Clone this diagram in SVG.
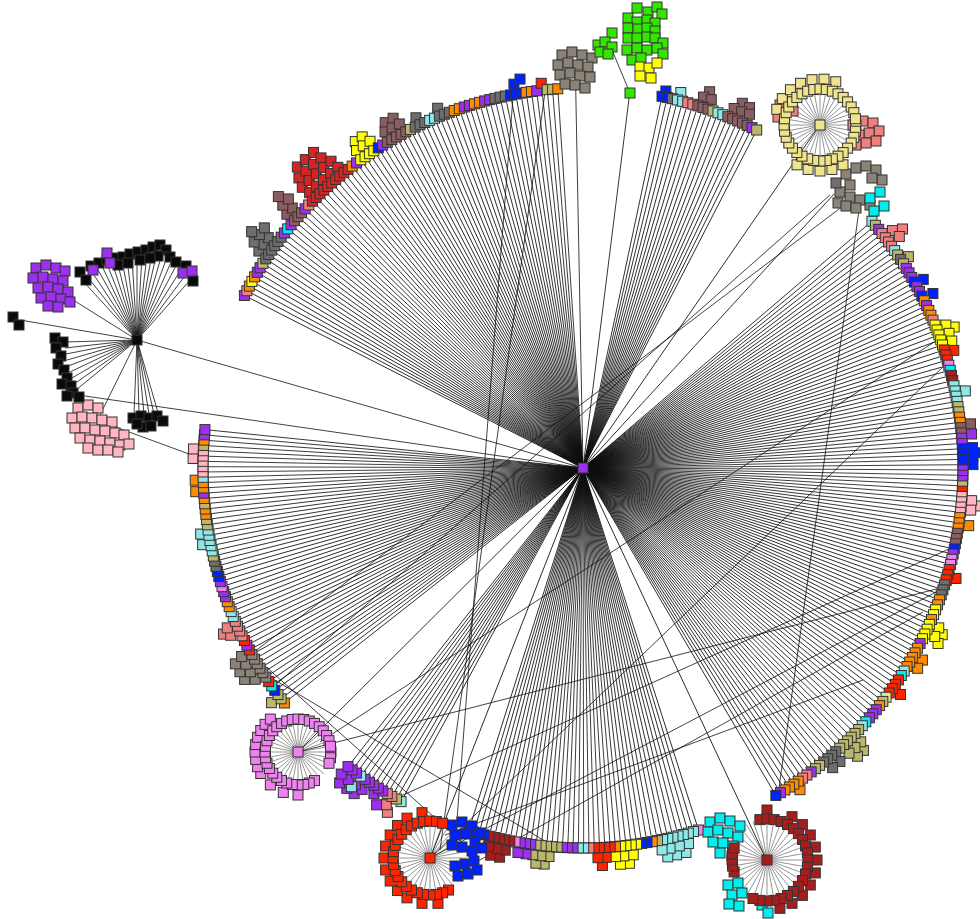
<svg xmlns="http://www.w3.org/2000/svg" width="980" height="919" viewBox="0 0 980 919">
<style>
.e{stroke:#111;stroke-width:.8;fill:none}
.sp{stroke-width:.45}
.n{stroke:#333;stroke-width:1}
.rg use{transform-origin:0 0;transform:rotate(calc(var(--a)*1deg)) translate(calc(var(--r,380)*1px)) rotate(calc(var(--a)*-1deg))}
.pu{fill:#9b30ee}.or{fill:#ff8c00}.ye{fill:#ffff00}.gy{fill:#6e6e6e}.tp{fill:#8b8378}.rb{fill:#8b5c60}
.rd{fill:#ff2400}.fr{fill:#d42424}.dr{fill:#a51e1e}.lc{fill:#f08080}.kh{fill:#bdb76b}.lk{fill:#efe38c}
.cy{fill:#00eeee}.pc{fill:#8ee8e8}.bl{fill:#0022ff}.vi{fill:#ee82ee}.pk{fill:#ffb6c1}.gn{fill:#33e600}.bk{fill:#0a0a0a}
</style>
<defs>
<rect id="s" x="-5" y="-5" width="10" height="10"/>
<line id="r" x2="380"/>
<g id="f5"><use href="#r"/><use href="#r" transform="rotate(.8)"/><use href="#r" transform="rotate(1.6)"/><use href="#r" transform="rotate(2.4)"/><use href="#r" transform="rotate(3.2)"/></g>
<g id="f10"><use href="#f5"/><use href="#f5" transform="rotate(4)"/></g>
<path id="w" vector-effect="non-scaling-stroke" d="M0 0L1 0M0 0L.985 .174M0 0L.94 .342M0 0L.866 .5M0 0L.766 .643M0 0L.643 .766M0 0L.5 .866M0 0L.342 .94M0 0L.174 .985M0 0L0 1M0 0L-.174 .985M0 0L-.342 .94M0 0L-.5 .866M0 0L-.643 .766M0 0L-.766 .643M0 0L-.866 .5M0 0L-.94 .342M0 0L-.985 .174M0 0L-1 0M0 0L-.985 -.174M0 0L-.94 -.342M0 0L-.866 -.5M0 0L-.766 -.643M0 0L-.643 -.766M0 0L-.5 -.866M0 0L-.342 -.94M0 0L-.174 -.985M0 0L0 -1M0 0L.174 -.985M0 0L.342 -.94M0 0L.5 -.866M0 0L.643 -.766M0 0L.766 -.643M0 0L.866 -.5M0 0L.94 -.342M0 0L.985 -.174"/>
</defs>
<rect width="980" height="919" fill="#fff"/>

<!-- connectors -->
<g id="edges" class="e">
<g id="fan" transform="translate(583 468)">
<use href="#f10" transform="rotate(207)"/><use href="#f10" transform="rotate(215)"/><use href="#f10" transform="rotate(223)"/><use href="#f10" transform="rotate(231)"/><use href="#f10" transform="rotate(239)"/><use href="#f10" transform="rotate(247)"/><use href="#f10" transform="rotate(255)"/><use href="#f5" transform="rotate(263)"/>
<use href="#r" transform="rotate(268.9)"/><use href="#r" transform="rotate(277.1)"/>
<use href="#f10" transform="rotate(282)"/><use href="#f10" transform="rotate(290)"/>
<line x2="417" transform="rotate(304.6)"/><line x2="372" transform="rotate(312.5)"/>
<use href="#f10" transform="rotate(319.5)"/><use href="#f10" transform="rotate(327.5)"/><use href="#f10" transform="rotate(335.5)"/><use href="#f10" transform="rotate(343.5)"/><use href="#f10" transform="rotate(351.5)"/><use href="#f10" transform="rotate(359.5)"/><use href="#f10" transform="rotate(7.5)"/><use href="#f10" transform="rotate(15.5)"/><use href="#f10" transform="rotate(23.5)"/><use href="#f10" transform="rotate(31.5)"/><use href="#f10" transform="rotate(39.5)"/><use href="#f10" transform="rotate(47.5)"/><use href="#f5" transform="rotate(55.5)"/><use href="#r" transform="rotate(59.5)"/>
<line x2="433" transform="rotate(64.9)"/>
<use href="#f10" transform="rotate(72.3)"/><use href="#f10" transform="rotate(80.3)"/><use href="#f10" transform="rotate(88.3)"/><use href="#f10" transform="rotate(96.3)"/><use href="#f5" transform="rotate(104.3)"/>
<line x2="419" transform="rotate(111.4)"/>
<use href="#f10" transform="rotate(118.6)"/><use href="#r" transform="rotate(126.6)"/><use href="#r" transform="rotate(127.4)"/><use href="#r" transform="rotate(128.2)"/>
<line x2="402" transform="rotate(135.1)"/>
<use href="#f10" transform="rotate(141.8)"/><use href="#f10" transform="rotate(149.8)"/><use href="#f10" transform="rotate(157.8)"/><use href="#f10" transform="rotate(165.8)"/><use href="#f10" transform="rotate(173.8)"/><use href="#f5" transform="rotate(181.8)"/><use href="#r" transform="rotate(185.8)"/>
</g>
<g id="hub-spokes" class="sp">
<use href="#w" transform="translate(820 125) scale(36)"/>
<use href="#w" transform="translate(298 752) scale(34)"/>
<use href="#w" transform="translate(430 858) scale(37)"/>
<use href="#w" transform="translate(767 860) scale(41)"/>
</g>
<path id="black-spokes" d="M137 340L82 280M137 340L87 276M137 340L92 272M137 340L97 268M137 340L102 266M137 340L107 264M137 340L112 262M137 340L117 261M137 340L122 260M137 340L127 259M137 340L132 258M137 340L137 257M137 340L142 256M137 340L147 255M137 340L152 253M137 340L157 252M137 340L162 254M137 340L167 257M137 340L172 260M137 340L177 264M137 340L182 268M137 340L187 273M137 340L192 278M137 340L64 342M137 340L65 348M137 340L66 354M137 340L67 360M137 340L68 366M137 340L70 372M137 340L72 378M137 340L74 384M137 340L76 390M137 340L134 414M137 340L139 414M137 340L144 414M137 340L149 414M137 340L154 414M137 340L159 416M137 340L20 320M137 340L70 298M137 340L100 415"/>
<path id="cross-links" d="M137 340L583 468M78 395L583 468M110 425L200 458M612 50L630 93M513 97L455 845M545 92L440 850M859 210L778 795M847 203L250 655M830 195L272 688M945 365L430 858M298 752L952 585M940 590L430 858M923 612L462 870M863 680L445 835M245 648L462 842M268 676L560 850M320 742L945 335M392 800L958 545"/>
</g>

<!-- nodes -->
<g id="nodes" class="n">
<g id="ring" class="rg" transform="translate(583 468)">
<use href="#s" class="gy" style="--a:213.8;--r:390"/><use href="#s" class="gy" style="--a:215;--r:390"/><use href="#s" class="gy" style="--a:216.2;--r:390"/><use href="#s" class="gy" style="--a:214.5;--r:399"/><use href="#s" class="gy" style="--a:215.8;--r:399"/><use href="#s" class="gy" style="--a:217;--r:399"/><use href="#s" class="gy" style="--a:215.5;--r:407"/>
<use href="#s" class="rb" style="--a:220.6;--r:390"/><use href="#s" class="rb" style="--a:221.8;--r:390"/><use href="#s" class="rb" style="--a:221.2;--r:399"/><use href="#s" class="rb" style="--a:222.4;--r:399"/><use href="#s" class="rb" style="--a:221.7;--r:408"/>
<use href="#s" class="fr" style="--a:226.5;--r:415"/><use href="#s" class="fr" style="--a:228;--r:415"/><use href="#s" class="fr" style="--a:229.5;--r:415"/><use href="#s" class="fr" style="--a:225.6;--r:406"/><use href="#s" class="fr" style="--a:227;--r:406"/><use href="#s" class="fr" style="--a:228.4;--r:406"/><use href="#s" class="fr" style="--a:229.8;--r:406"/><use href="#s" class="fr" style="--a:225;--r:397"/><use href="#s" class="fr" style="--a:226.4;--r:397"/><use href="#s" class="fr" style="--a:227.8;--r:397"/><use href="#s" class="fr" style="--a:229.2;--r:397"/><use href="#s" class="fr" style="--a:230.6;--r:397"/><use href="#s" class="fr" style="--a:225.2;--r:388"/><use href="#s" class="fr" style="--a:226.6;--r:388"/><use href="#s" class="fr" style="--a:228;--r:388"/><use href="#s" class="fr" style="--a:229.4;--r:388"/><use href="#s" class="fr" style="--a:230.8;--r:388"/>
<use href="#s" class="ye" style="--a:235.1;--r:398"/><use href="#s" class="ye" style="--a:236.3;--r:398"/><use href="#s" class="ye" style="--a:234.5;--r:390"/><use href="#s" class="ye" style="--a:235.7;--r:390"/><use href="#s" class="ye" style="--a:236.9;--r:390"/>
<use href="#s" class="rb" style="--a:240.2;--r:398"/><use href="#s" class="rb" style="--a:241.5;--r:398"/><use href="#s" class="rb" style="--a:239.5;--r:390"/><use href="#s" class="rb" style="--a:240.7;--r:390"/><use href="#s" class="rb" style="--a:241.9;--r:390"/>
<use href="#s" class="gy" style="--a:244.5;--r:388"/><use href="#s" class="gy" style="--a:248;--r:388"/><use href="#s" class="bl" style="--a:259.8;--r:390"/><use href="#s" class="bl" style="--a:260.8;--r:394"/>
<use href="#s" class="bl" style="--a:282.4;--r:386"/><use href="#s" class="pc" style="--a:284.6;--r:388"/><use href="#s" class="rb" style="--a:288.6;--r:397"/><use href="#s" class="rb" style="--a:288;--r:390"/><use href="#s" class="rb" style="--a:289.2;--r:390"/><use href="#s" class="rb" style="--a:293.6;--r:398"/><use href="#s" class="rb" style="--a:294.8;--r:397"/><use href="#s" class="rb" style="--a:292.8;--r:390"/><use href="#s" class="rb" style="--a:294;--r:390"/><use href="#s" class="rb" style="--a:295.2;--r:391"/>
<use href="#s" class="lc" style="--a:323.2;--r:399"/><use href="#s" class="lc" style="--a:322.5;--r:390"/><use href="#s" class="lc" style="--a:323.8;--r:392"/><use href="#s" class="kh" style="--a:327;--r:388"/><use href="#s" class="bl" style="--a:331;--r:389"/><use href="#s" class="bl" style="--a:333.5;--r:391"/>
<use href="#s" class="ye" style="--a:339.2;--r:397"/><use href="#s" class="ye" style="--a:338.5;--r:390"/><use href="#s" class="ye" style="--a:339.8;--r:390"/><use href="#s" class="ye" style="--a:341;--r:390"/><use href="#s" class="rd" style="--a:342.4;--r:389"/><use href="#s" class="pc" style="--a:348.6;--r:390"/><use href="#s" class="rb" style="--a:353.5;--r:390"/><use href="#s" class="pu" style="--a:355;--r:390"/>
<use href="#s" class="bl" style="--a:357.8;--r:396"/><use href="#s" class="bl" style="--a:357;--r:390"/><use href="#s" class="bl" style="--a:358.3;--r:390"/><use href="#s" class="bl" style="--a:359.5;--r:390"/>
<use href="#s" class="pk" style="--a:5.5;--r:396"/><use href="#s" class="pk" style="--a:4.8;--r:390"/><use href="#s" class="pk" style="--a:6.2;--r:390"/><use href="#s" class="or" style="--a:8.5;--r:390"/><use href="#s" class="rd" style="--a:16.5;--r:389"/>
<use href="#s" class="ye" style="--a:24.9;--r:396"/><use href="#s" class="ye" style="--a:26.3;--r:396"/><use href="#s" class="ye" style="--a:24.2;--r:390"/><use href="#s" class="ye" style="--a:25.6;--r:390"/><use href="#s" class="or" style="--a:29.5;--r:390"/><use href="#s" class="or" style="--a:30.9;--r:390"/><use href="#s" class="rd" style="--a:35.5;--r:390"/>
<use href="#s" class="kh" style="--a:45.2;--r:398"/><use href="#s" class="kh" style="--a:46.4;--r:398"/><use href="#s" class="kh" style="--a:44.6;--r:390"/><use href="#s" class="kh" style="--a:45.8;--r:390"/><use href="#s" class="kh" style="--a:47;--r:390"/><use href="#s" class="gy" style="--a:48.8;--r:390"/><use href="#s" class="gy" style="--a:50.2;--r:390"/><use href="#s" class="or" style="--a:56;--r:388"/>
<use href="#s" class="pc" style="--a:75;--r:398"/><use href="#s" class="pc" style="--a:76.4;--r:398"/><use href="#s" class="pc" style="--a:77.7;--r:398"/><use href="#s" class="pc" style="--a:74.3;--r:390"/><use href="#s" class="pc" style="--a:75.7;--r:390"/><use href="#s" class="pc" style="--a:77.1;--r:390"/><use href="#s" class="pc" style="--a:78.3;--r:390"/>
<use href="#s" class="ye" style="--a:83.3;--r:398"/><use href="#s" class="ye" style="--a:84.6;--r:398"/><use href="#s" class="ye" style="--a:82.6;--r:390"/><use href="#s" class="ye" style="--a:84;--r:390"/><use href="#s" class="ye" style="--a:85.2;--r:390"/>
<use href="#s" class="rd" style="--a:87.2;--r:398"/><use href="#s" class="rd" style="--a:86.6;--r:390"/><use href="#s" class="rd" style="--a:87.8;--r:390"/>
<use href="#s" class="kh" style="--a:95.6;--r:398"/><use href="#s" class="kh" style="--a:96.8;--r:398"/><use href="#s" class="kh" style="--a:95;--r:390"/><use href="#s" class="kh" style="--a:96.2;--r:390"/><use href="#s" class="kh" style="--a:97.4;--r:390"/><use href="#s" class="pu" style="--a:98.4;--r:390"/><use href="#s" class="pu" style="--a:99.6;--r:390"/>
<use href="#s" class="dr" style="--a:102.1;--r:398"/><use href="#s" class="dr" style="--a:103.4;--r:398"/><use href="#s" class="dr" style="--a:101.5;--r:390"/><use href="#s" class="dr" style="--a:102.7;--r:390"/><use href="#s" class="dr" style="--a:104;--r:390"/>
<use href="#s" class="lc" style="--a:119.6;--r:396"/><use href="#s" class="lc" style="--a:120.3;--r:390"/><use href="#s" class="pu" style="--a:121.5;--r:395"/><use href="#s" class="pu" style="--a:122.7;--r:387"/>
<use href="#s" class="pu" style="--a:125.1;--r:398"/><use href="#s" class="pu" style="--a:126.4;--r:398"/><use href="#s" class="pu" style="--a:127.7;--r:398"/><use href="#s" class="pu" style="--a:124.5;--r:390"/><use href="#s" class="pu" style="--a:125.7;--r:390"/><use href="#s" class="pc" style="--a:126;--r:394"/><use href="#s" class="pu" style="--a:127;--r:390"/><use href="#s" class="pu" style="--a:128.3;--r:390"/>
<use href="#s" class="kh" style="--a:143;--r:390"/>
<use href="#s" class="tp" style="--a:148;--r:399"/><use href="#s" class="tp" style="--a:149.3;--r:399"/><use href="#s" class="tp" style="--a:150.6;--r:399"/><use href="#s" class="tp" style="--a:147.2;--r:390"/><use href="#s" class="tp" style="--a:148.5;--r:390"/><use href="#s" class="tp" style="--a:149.8;--r:390"/><use href="#s" class="tp" style="--a:151.1;--r:390"/>
<use href="#s" class="lc" style="--a:155.2;--r:396"/><use href="#s" class="lc" style="--a:154.6;--r:390"/><use href="#s" class="lc" style="--a:155.8;--r:390"/><use href="#s" class="pc" style="--a:168.6;--r:388"/><use href="#s" class="pc" style="--a:170.2;--r:388"/><use href="#s" class="or" style="--a:176.5;--r:388"/><use href="#s" class="or" style="--a:178.2;--r:388"/><use href="#s" class="pk" style="--a:181.4;--r:390"/><use href="#s" class="pk" style="--a:182.8;--r:390"/>

<use href="#s" class="pu" style="--a:207"/><use href="#s" class="lc" style="--a:207.8"/><use href="#s" class="or" style="--a:208.6"/><use href="#s" class="ye" style="--a:209.4"/><use href="#s" class="or" style="--a:210.2"/><use href="#s" class="pu" style="--a:211"/><use href="#s" class="pu" style="--a:211.8"/><use href="#s" class="kh" style="--a:212.6"/><use href="#s" class="gy" style="--a:213.4"/><use href="#s" class="gy" style="--a:214.2"/><use href="#s" class="gy" style="--a:215"/><use href="#s" class="gy" style="--a:215.8"/><use href="#s" class="gy" style="--a:216.6"/><use href="#s" class="gy" style="--a:217.4"/><use href="#s" class="pu" style="--a:218.2"/><use href="#s" class="cy" style="--a:219"/><use href="#s" class="pu" style="--a:219.8"/><use href="#s" class="rb" style="--a:220.6"/><use href="#s" class="rb" style="--a:221.4"/><use href="#s" class="rb" style="--a:222.2"/><use href="#s" class="pu" style="--a:223"/><use href="#s" class="lc" style="--a:223.8"/>
<use href="#s" class="fr" style="--a:224.6"/><use href="#s" class="fr" style="--a:225.4"/><use href="#s" class="fr" style="--a:226.2"/><use href="#s" class="fr" style="--a:227"/><use href="#s" class="fr" style="--a:227.8"/><use href="#s" class="fr" style="--a:228.6"/><use href="#s" class="fr" style="--a:229.4"/><use href="#s" class="fr" style="--a:230.2"/><use href="#s" class="fr" style="--a:231"/><use href="#s" class="fr" style="--a:231.8"/><use href="#s" class="or" style="--a:232.6"/><use href="#s" class="pu" style="--a:233.4"/><use href="#s" class="ye" style="--a:234.2"/><use href="#s" class="ye" style="--a:235"/><use href="#s" class="ye" style="--a:235.8"/><use href="#s" class="ye" style="--a:236.6"/><use href="#s" class="bl" style="--a:237.4"/><use href="#s" class="pu" style="--a:238.2"/>
<use href="#s" class="rb" style="--a:239"/><use href="#s" class="rb" style="--a:239.8"/><use href="#s" class="rb" style="--a:240.6"/><use href="#s" class="rb" style="--a:241.4"/><use href="#s" class="rb" style="--a:242.2"/><use href="#s" class="kh" style="--a:243"/><use href="#s" class="gy" style="--a:243.8"/><use href="#s" class="gy" style="--a:244.6"/><use href="#s" class="gy" style="--a:245.4"/><use href="#s" class="pc" style="--a:246.2"/><use href="#s" class="pc" style="--a:247"/><use href="#s" class="gy" style="--a:247.8"/><use href="#s" class="gy" style="--a:248.6"/><use href="#s" class="gy" style="--a:249.4"/><use href="#s" class="or" style="--a:250.2"/><use href="#s" class="or" style="--a:251"/><use href="#s" class="pu" style="--a:251.8"/><use href="#s" class="pu" style="--a:252.6"/><use href="#s" class="or" style="--a:253.4"/><use href="#s" class="or" style="--a:254.2"/><use href="#s" class="pu" style="--a:255"/><use href="#s" class="pu" style="--a:255.8"/>
<use href="#s" class="gy" style="--a:256.6"/><use href="#s" class="gy" style="--a:257.4"/><use href="#s" class="gy" style="--a:258.2"/><use href="#s" class="bl" style="--a:259"/><use href="#s" class="bl" style="--a:259.8"/><use href="#s" class="bl" style="--a:260.6"/><use href="#s" class="or" style="--a:261.4"/><use href="#s" class="or" style="--a:262.2"/><use href="#s" class="pu" style="--a:263"/><use href="#s" class="rd" style="--a:263.8;--r:387"/><use href="#s" class="kh" style="--a:264.6"/><use href="#s" class="kh" style="--a:265.4"/><use href="#s" class="or" style="--a:266.2"/>
<use href="#s" class="bl" style="--a:282"/><use href="#s" class="bl" style="--a:282.8"/><use href="#s" class="gy" style="--a:283.6"/><use href="#s" class="pc" style="--a:284.4"/><use href="#s" class="pc" style="--a:285.2"/><use href="#s" class="lc" style="--a:286"/><use href="#s" class="lc" style="--a:286.8"/><use href="#s" class="rb" style="--a:287.6"/><use href="#s" class="rb" style="--a:288.4"/><use href="#s" class="rb" style="--a:289.2"/><use href="#s" class="kh" style="--a:290"/><use href="#s" class="pc" style="--a:290.8"/><use href="#s" class="pc" style="--a:291.6"/><use href="#s" class="rb" style="--a:292.4"/><use href="#s" class="rb" style="--a:293.2"/><use href="#s" class="rb" style="--a:294"/><use href="#s" class="rb" style="--a:294.8"/><use href="#s" class="rb" style="--a:295.6"/><use href="#s" class="pu" style="--a:296.4"/><use href="#s" class="kh" style="--a:297.2"/>
<use href="#s" class="pc" style="--a:319.5"/><use href="#s" class="kh" style="--a:320.3"/><use href="#s" class="pu" style="--a:321.1"/><use href="#s" class="lc" style="--a:321.9"/><use href="#s" class="lc" style="--a:322.7"/><use href="#s" class="lc" style="--a:323.5"/><use href="#s" class="lc" style="--a:324.3"/><use href="#s" class="pc" style="--a:325.1"/><use href="#s" class="kh" style="--a:325.9"/><use href="#s" class="gy" style="--a:326.7"/><use href="#s" class="kh" style="--a:327.5"/><use href="#s" class="pu" style="--a:328.3"/><use href="#s" class="pu" style="--a:329.1"/><use href="#s" class="pu" style="--a:329.9"/><use href="#s" class="bl" style="--a:330.7"/><use href="#s" class="pu" style="--a:331.5"/><use href="#s" class="pu" style="--a:332.3"/><use href="#s" class="bl" style="--a:333.1"/><use href="#s" class="or" style="--a:333.9"/><use href="#s" class="pu" style="--a:334.7"/><use href="#s" class="or" style="--a:335.5"/><use href="#s" class="or" style="--a:336.3"/><use href="#s" class="lc" style="--a:337.1"/>
<use href="#s" class="ye" style="--a:337.9"/><use href="#s" class="ye" style="--a:338.7"/><use href="#s" class="ye" style="--a:339.5"/><use href="#s" class="ye" style="--a:340.3"/><use href="#s" class="ye" style="--a:341.1"/><use href="#s" class="rd" style="--a:341.9"/><use href="#s" class="rd" style="--a:342.7"/><use href="#s" class="rd" style="--a:343.5"/><use href="#s" class="vi" style="--a:344.3"/><use href="#s" class="cy" style="--a:345.1"/><use href="#s" class="dr" style="--a:345.9"/><use href="#s" class="dr" style="--a:346.7"/><use href="#s" class="pc" style="--a:347.5"/><use href="#s" class="pc" style="--a:348.3"/><use href="#s" class="pc" style="--a:349.1"/><use href="#s" class="pc" style="--a:349.9"/><use href="#s" class="kh" style="--a:350.7"/><use href="#s" class="kh" style="--a:351.5"/><use href="#s" class="or" style="--a:352.3"/><use href="#s" class="or" style="--a:353.1"/><use href="#s" class="rb" style="--a:353.9"/><use href="#s" class="rb" style="--a:354.7"/><use href="#s" class="pu" style="--a:355.5"/><use href="#s" class="pu" style="--a:356.3"/><use href="#s" class="bl" style="--a:357.1"/><use href="#s" class="bl" style="--a:357.9"/><use href="#s" class="bl" style="--a:358.7"/><use href="#s" class="bl" style="--a:359.5"/>
<use href="#s" class="pu" style="--a:0.3"/><use href="#s" class="pu" style="--a:1.1"/><use href="#s" class="pu" style="--a:1.9"/><use href="#s" class="kh" style="--a:2.7"/><use href="#s" class="rd" style="--a:3.5"/><use href="#s" class="pk" style="--a:4.3"/><use href="#s" class="pk" style="--a:5.1"/><use href="#s" class="pk" style="--a:5.9"/><use href="#s" class="pk" style="--a:6.7"/><use href="#s" class="or" style="--a:7.5"/><use href="#s" class="or" style="--a:8.3"/><use href="#s" class="or" style="--a:9.1"/><use href="#s" class="rb" style="--a:9.9"/><use href="#s" class="rb" style="--a:10.7"/><use href="#s" class="rb" style="--a:11.5"/><use href="#s" class="bl" style="--a:12.3"/><use href="#s" class="pu" style="--a:13.1"/><use href="#s" class="vi" style="--a:13.9"/><use href="#s" class="vi" style="--a:14.7"/><use href="#s" class="rd" style="--a:15.5"/><use href="#s" class="rd" style="--a:16.3"/><use href="#s" class="rd" style="--a:17.1"/><use href="#s" class="gy" style="--a:17.9"/><use href="#s" class="gy" style="--a:18.7"/><use href="#s" class="gy" style="--a:19.5"/>
<use href="#s" class="or" style="--a:20.3"/><use href="#s" class="or" style="--a:21.1"/><use href="#s" class="ye" style="--a:21.9"/><use href="#s" class="ye" style="--a:22.7"/><use href="#s" class="or" style="--a:23.5"/><use href="#s" class="ye" style="--a:24.3"/><use href="#s" class="ye" style="--a:25.1"/><use href="#s" class="ye" style="--a:25.9"/><use href="#s" class="ye" style="--a:26.7"/><use href="#s" class="pu" style="--a:27.5"/><use href="#s" class="or" style="--a:28.3"/><use href="#s" class="or" style="--a:29.1"/><use href="#s" class="or" style="--a:29.9"/><use href="#s" class="or" style="--a:30.7"/><use href="#s" class="or" style="--a:31.5"/><use href="#s" class="pc" style="--a:32.3"/><use href="#s" class="cy" style="--a:33.1"/><use href="#s" class="rd" style="--a:33.9"/><use href="#s" class="rd" style="--a:34.7"/><use href="#s" class="rd" style="--a:35.5"/><use href="#s" class="rd" style="--a:36.3"/><use href="#s" class="lk" style="--a:37.1"/><use href="#s" class="kh" style="--a:37.9"/><use href="#s" class="or" style="--a:38.7"/>
<use href="#s" class="pu" style="--a:39.5"/><use href="#s" class="pu" style="--a:40.3"/><use href="#s" class="pu" style="--a:41.1"/><use href="#s" class="cy" style="--a:41.9"/><use href="#s" class="pc" style="--a:42.7"/><use href="#s" class="kh" style="--a:43.5"/><use href="#s" class="kh" style="--a:44.3"/><use href="#s" class="kh" style="--a:45.1"/><use href="#s" class="kh" style="--a:45.9"/><use href="#s" class="kh" style="--a:46.7"/><use href="#s" class="kh" style="--a:47.5"/><use href="#s" class="gy" style="--a:48.3"/><use href="#s" class="gy" style="--a:49.1"/><use href="#s" class="gy" style="--a:49.9"/><use href="#s" class="gy" style="--a:50.7"/><use href="#s" class="kh" style="--a:51.5"/><use href="#s" class="kh" style="--a:52.3"/><use href="#s" class="pu" style="--a:53.1"/><use href="#s" class="lc" style="--a:53.9"/><use href="#s" class="lc" style="--a:54.7"/><use href="#s" class="or" style="--a:55.5"/><use href="#s" class="or" style="--a:56.3"/><use href="#s" class="or" style="--a:57.1"/><use href="#s" class="or" style="--a:57.9"/><use href="#s" class="pu" style="--a:58.7"/><use href="#s" class="bl" style="--a:59.5"/>
<use href="#s" class="vi" style="--a:72.3"/><use href="#s" class="pc" style="--a:73.1"/><use href="#s" class="pc" style="--a:73.9"/><use href="#s" class="pc" style="--a:74.7"/><use href="#s" class="pc" style="--a:75.5"/><use href="#s" class="pc" style="--a:76.3"/><use href="#s" class="pc" style="--a:77.1"/><use href="#s" class="pc" style="--a:77.9"/><use href="#s" class="kh" style="--a:78.7"/><use href="#s" class="or" style="--a:79.5"/><use href="#s" class="bl" style="--a:80.3"/><use href="#s" class="bl" style="--a:81.1"/><use href="#s" class="ye" style="--a:81.9"/><use href="#s" class="ye" style="--a:82.7"/><use href="#s" class="ye" style="--a:83.5"/><use href="#s" class="ye" style="--a:84.3"/><use href="#s" class="or" style="--a:85.1"/><use href="#s" class="rd" style="--a:85.9"/><use href="#s" class="rd" style="--a:86.7"/><use href="#s" class="rd" style="--a:87.5"/><use href="#s" class="rd" style="--a:88.3"/><use href="#s" class="lc" style="--a:89.1"/><use href="#s" class="pc" style="--a:89.9"/>
<use href="#s" class="pc" style="--a:90.7"/><use href="#s" class="pu" style="--a:91.5"/><use href="#s" class="pu" style="--a:92.3"/><use href="#s" class="pu" style="--a:93.1"/><use href="#s" class="kh" style="--a:93.9"/><use href="#s" class="kh" style="--a:94.7"/><use href="#s" class="kh" style="--a:95.5"/><use href="#s" class="kh" style="--a:96.3"/><use href="#s" class="kh" style="--a:97.1"/><use href="#s" class="pu" style="--a:97.9"/><use href="#s" class="pu" style="--a:98.7"/><use href="#s" class="pu" style="--a:99.5"/><use href="#s" class="vi" style="--a:100.3"/><use href="#s" class="dr" style="--a:101.1"/><use href="#s" class="dr" style="--a:101.9"/><use href="#s" class="dr" style="--a:102.7"/><use href="#s" class="dr" style="--a:103.5"/><use href="#s" class="dr" style="--a:104.3"/><use href="#s" class="bl" style="--a:105.1"/><use href="#s" class="bl" style="--a:105.9"/><use href="#s" class="bl" style="--a:106.7"/><use href="#s" class="bl" style="--a:107.5"/>
<use href="#s" class="pc" style="--a:118.6"/><use href="#s" class="kh" style="--a:119.4"/><use href="#s" class="lc" style="--a:120.2"/><use href="#s" class="lc" style="--a:121"/><use href="#s" class="pu" style="--a:121.8"/><use href="#s" class="pu" style="--a:122.6"/><use href="#s" class="pu" style="--a:123.4"/><use href="#s" class="pu" style="--a:124.2"/><use href="#s" class="pu" style="--a:125"/><use href="#s" class="pc" style="--a:125.8"/><use href="#s" class="pu" style="--a:126.6"/><use href="#s" class="pu" style="--a:127.4"/><use href="#s" class="pu" style="--a:128.2"/>
<use href="#s" class="or" style="--a:141.8"/><use href="#s" class="kh" style="--a:142.6"/><use href="#s" class="kh" style="--a:143.4"/><use href="#s" class="bl" style="--a:144.2"/><use href="#s" class="cy" style="--a:145"/><use href="#s" class="rd" style="--a:145.8"/><use href="#s" class="tp" style="--a:146.6"/><use href="#s" class="tp" style="--a:147.4"/><use href="#s" class="tp" style="--a:148.2"/><use href="#s" class="tp" style="--a:149"/><use href="#s" class="tp" style="--a:149.8"/><use href="#s" class="tp" style="--a:150.6"/><use href="#s" class="rd" style="--a:151.4"/><use href="#s" class="pu" style="--a:152.2"/><use href="#s" class="rd" style="--a:153"/><use href="#s" class="lc" style="--a:153.8"/><use href="#s" class="lc" style="--a:154.6"/><use href="#s" class="lc" style="--a:155.4"/><use href="#s" class="lc" style="--a:156.2"/><use href="#s" class="pc" style="--a:157"/><use href="#s" class="pc" style="--a:157.8"/><use href="#s" class="or" style="--a:158.6"/><use href="#s" class="or" style="--a:159.4"/><use href="#s" class="pu" style="--a:160.2"/><use href="#s" class="pu" style="--a:161"/><use href="#s" class="vi" style="--a:161.8"/><use href="#s" class="pu" style="--a:162.6"/><use href="#s" class="bl" style="--a:163.4"/>
<use href="#s" class="bl" style="--a:164.2"/><use href="#s" class="gy" style="--a:165"/><use href="#s" class="gy" style="--a:165.8"/><use href="#s" class="kh" style="--a:166.6"/><use href="#s" class="pc" style="--a:167.4"/><use href="#s" class="pc" style="--a:168.2"/><use href="#s" class="pc" style="--a:169"/><use href="#s" class="pc" style="--a:169.8"/><use href="#s" class="pc" style="--a:170.6"/><use href="#s" class="kh" style="--a:171.4"/><use href="#s" class="kh" style="--a:172.2"/><use href="#s" class="or" style="--a:173"/><use href="#s" class="or" style="--a:173.8"/><use href="#s" class="kh" style="--a:174.6"/><use href="#s" class="or" style="--a:175.4"/><use href="#s" class="pu" style="--a:176.2"/><use href="#s" class="or" style="--a:177"/><use href="#s" class="or" style="--a:177.8"/><use href="#s" class="pc" style="--a:178.6"/><use href="#s" class="pk" style="--a:179.4"/><use href="#s" class="pk" style="--a:180.2"/><use href="#s" class="pk" style="--a:181"/><use href="#s" class="pk" style="--a:181.8"/><use href="#s" class="pk" style="--a:182.6"/><use href="#s" class="kh" style="--a:183.4"/><use href="#s" class="or" style="--a:184.2"/><use href="#s" class="pu" style="--a:185"/><use href="#s" class="pu" style="--a:185.8"/>
</g>

<g id="cluster-taupe-top" class="tp">
<use href="#s" x="562" y="55"/><use href="#s" x="572" y="52"/><use href="#s" x="582" y="55"/><use href="#s" x="592" y="58"/><use href="#s" x="558" y="65"/><use href="#s" x="568" y="63"/><use href="#s" x="578" y="65"/><use href="#s" x="588" y="67"/><use href="#s" x="560" y="75"/><use href="#s" x="570" y="73"/><use href="#s" x="580" y="76"/><use href="#s" x="590" y="77"/><use href="#s" x="565" y="84"/><use href="#s" x="575" y="85"/><use href="#s" x="585" y="88"/>
</g>
<g id="cluster-green">
<g class="gn"><use href="#s" x="612" y="33"/><use href="#s" x="598" y="45"/><use href="#s" x="605" y="42"/><use href="#s" x="612" y="47"/><use href="#s" x="600" y="52"/><use href="#s" x="608" y="54"/>
<use href="#s" x="637" y="8"/><use href="#s" x="648" y="12"/><use href="#s" x="657" y="7"/><use href="#s" x="662" y="14"/><use href="#s" x="628" y="18"/><use href="#s" x="637" y="22"/><use href="#s" x="647" y="20"/><use href="#s" x="655" y="23"/><use href="#s" x="628" y="28"/><use href="#s" x="638" y="29"/><use href="#s" x="647" y="28"/><use href="#s" x="655" y="31"/><use href="#s" x="628" y="38"/><use href="#s" x="637" y="38"/><use href="#s" x="647" y="37"/><use href="#s" x="655" y="38"/><use href="#s" x="663" y="43"/><use href="#s" x="627" y="50"/><use href="#s" x="637" y="48"/><use href="#s" x="647" y="50"/><use href="#s" x="657" y="48"/><use href="#s" x="663" y="54"/><use href="#s" x="632" y="60"/><use href="#s" x="641" y="58"/>
<use href="#s" x="630" y="93"/></g>
<g class="ye"><use href="#s" x="640" y="67"/><use href="#s" x="649" y="68"/><use href="#s" x="657" y="63"/><use href="#s" x="640" y="76"/><use href="#s" x="651" y="78"/></g>
</g>
<g id="cluster-taupe-right">
<g class="tp"><use href="#s" x="846" y="174"/><use href="#s" x="856" y="168"/><use href="#s" x="866" y="166"/><use href="#s" x="876" y="170"/><use href="#s" x="882" y="180"/><use href="#s" x="872" y="178"/><use href="#s" x="850" y="185"/><use href="#s" x="840" y="192"/><use href="#s" x="850" y="197"/><use href="#s" x="860" y="200"/><use href="#s" x="870" y="205"/><use href="#s" x="838" y="203"/><use href="#s" x="846" y="206"/><use href="#s" x="856" y="208"/></g>
<use href="#s" class="gy" x="836" y="183"/>
<g class="cy"><use href="#s" x="870" y="198"/><use href="#s" x="880" y="192"/><use href="#s" x="884" y="206"/><use href="#s" x="874" y="211"/></g>
</g>
<g id="hub-khaki" transform="translate(820 125)">
<g class="lc"><use href="#s" x="-40" y="-20"/><use href="#s" x="-31" y="-23"/><use href="#s" x="-36" y="-11"/><use href="#s" x="-27" y="-14"/><use href="#s" x="-42" y="-8"/>
<use href="#s" x="33" y="0"/><use href="#s" x="43" y="-4"/><use href="#s" x="53" y="-2"/><use href="#s" x="59" y="6"/><use href="#s" x="49" y="8"/><use href="#s" x="39" y="10"/><use href="#s" x="56" y="16"/><use href="#s" x="46" y="18"/><use href="#s" x="36" y="20"/></g>
<g class="rg lk" style="--r:46">
<use href="#s" style="--a:200"/><use href="#s" style="--a:215"/><use href="#s" style="--a:230"/><use href="#s" style="--a:245"/><use href="#s" style="--a:260"/><use href="#s" style="--a:275"/><use href="#s" style="--a:290"/><use href="#s" style="--a:60"/><use href="#s" style="--a:75"/><use href="#s" style="--a:90"/><use href="#s" style="--a:105"/><use href="#s" style="--a:120"/>
</g>
<g class="rg lk" style="--r:36">
<use href="#s" style="--a:0"/><use href="#s" style="--a:10"/><use href="#s" style="--a:20"/><use href="#s" style="--a:30"/><use href="#s" style="--a:40"/><use href="#s" style="--a:50"/><use href="#s" style="--a:60"/><use href="#s" style="--a:70"/><use href="#s" style="--a:80"/><use href="#s" style="--a:90"/><use href="#s" style="--a:100"/><use href="#s" style="--a:110"/><use href="#s" style="--a:120"/><use href="#s" style="--a:130"/><use href="#s" style="--a:140"/><use href="#s" style="--a:150"/><use href="#s" style="--a:160"/><use href="#s" style="--a:170"/><use href="#s" style="--a:180"/><use href="#s" style="--a:190"/><use href="#s" style="--a:200"/><use href="#s" style="--a:210"/><use href="#s" style="--a:220"/><use href="#s" style="--a:230"/><use href="#s" style="--a:240"/><use href="#s" style="--a:250"/><use href="#s" style="--a:260"/><use href="#s" style="--a:270"/><use href="#s" style="--a:280"/><use href="#s" style="--a:290"/><use href="#s" style="--a:300"/><use href="#s" style="--a:310"/><use href="#s" style="--a:320"/><use href="#s" style="--a:330"/><use href="#s" style="--a:340"/><use href="#s" style="--a:350"/>
</g>
<use href="#s" class="lk"/>
</g>
<g id="hub-violet" transform="translate(298 752)">
<g class="rg vi" style="--r:43">
<use href="#s" style="--a:150"/><use href="#s" style="--a:160"/><use href="#s" style="--a:170"/><use href="#s" style="--a:180"/><use href="#s" style="--a:190"/><use href="#s" style="--a:200"/><use href="#s" style="--a:210"/><use href="#s" style="--a:220"/><use href="#s" style="--a:230"/><use href="#s" style="--a:90"/><use href="#s" style="--a:110"/><use href="#s" style="--a:130"/>
</g>
<g class="rg vi" style="--r:33">
<use href="#s" style="--a:0"/><use href="#s" style="--a:10"/><use href="#s" style="--a:20"/><use href="#s" style="--a:60"/><use href="#s" style="--a:70"/><use href="#s" style="--a:80"/><use href="#s" style="--a:90"/><use href="#s" style="--a:100"/><use href="#s" style="--a:110"/><use href="#s" style="--a:120"/><use href="#s" style="--a:130"/><use href="#s" style="--a:140"/><use href="#s" style="--a:150"/><use href="#s" style="--a:160"/><use href="#s" style="--a:170"/><use href="#s" style="--a:180"/><use href="#s" style="--a:190"/><use href="#s" style="--a:200"/><use href="#s" style="--a:210"/><use href="#s" style="--a:220"/><use href="#s" style="--a:230"/><use href="#s" style="--a:240"/><use href="#s" style="--a:250"/><use href="#s" style="--a:260"/><use href="#s" style="--a:270"/><use href="#s" style="--a:280"/><use href="#s" style="--a:290"/><use href="#s" style="--a:300"/><use href="#s" style="--a:310"/><use href="#s" style="--a:320"/><use href="#s" style="--a:330"/><use href="#s" style="--a:340"/><use href="#s" style="--a:350"/>
</g>
<use href="#s" class="vi"/>
</g>
<g id="hub-red" transform="translate(430 858)">
<g class="bl"><use href="#s" x="22" y="-33"/><use href="#s" x="32" y="-36"/><use href="#s" x="42" y="-32"/><use href="#s" x="50" y="-25"/><use href="#s" x="25" y="-23"/><use href="#s" x="35" y="-24"/><use href="#s" x="45" y="-16"/><use href="#s" x="22" y="-13"/><use href="#s" x="32" y="-11"/><use href="#s" x="42" y="-7"/><use href="#s" x="52" y="-10"/><use href="#s" x="25" y="8"/><use href="#s" x="35" y="6"/><use href="#s" x="44" y="3"/><use href="#s" x="28" y="18"/><use href="#s" x="38" y="16"/><use href="#s" x="47" y="12"/></g>
<g class="rg rd" style="--r:46">
<use href="#s" style="--a:80"/><use href="#s" style="--a:100"/><use href="#s" style="--a:120"/><use href="#s" style="--a:135"/><use href="#s" style="--a:150"/><use href="#s" style="--a:165"/><use href="#s" style="--a:180"/><use href="#s" style="--a:195"/><use href="#s" style="--a:210"/><use href="#s" style="--a:225"/><use href="#s" style="--a:240"/><use href="#s" style="--a:260"/>
</g>
<g class="rg rd" style="--r:37">
<use href="#s" style="--a:60"/><use href="#s" style="--a:70"/><use href="#s" style="--a:80"/><use href="#s" style="--a:90"/><use href="#s" style="--a:100"/><use href="#s" style="--a:110"/><use href="#s" style="--a:120"/><use href="#s" style="--a:130"/><use href="#s" style="--a:140"/><use href="#s" style="--a:150"/><use href="#s" style="--a:160"/><use href="#s" style="--a:170"/><use href="#s" style="--a:180"/><use href="#s" style="--a:190"/><use href="#s" style="--a:200"/><use href="#s" style="--a:210"/><use href="#s" style="--a:220"/><use href="#s" style="--a:230"/><use href="#s" style="--a:240"/><use href="#s" style="--a:250"/><use href="#s" style="--a:260"/><use href="#s" style="--a:270"/><use href="#s" style="--a:280"/><use href="#s" style="--a:290"/>
</g>
<use href="#s" class="rd"/>
</g>
<g id="hub-darkred" transform="translate(767 860)">
<g class="cy"><use href="#s" x="-57" y="-38"/><use href="#s" x="-47" y="-42"/><use href="#s" x="-37" y="-39"/><use href="#s" x="-27" y="-34"/><use href="#s" x="-59" y="-28"/><use href="#s" x="-49" y="-30"/><use href="#s" x="-39" y="-27"/><use href="#s" x="-29" y="-23"/><use href="#s" x="-54" y="-18"/><use href="#s" x="-44" y="-17"/><use href="#s" x="-34" y="-14"/><use href="#s" x="-47" y="-7"/><use href="#s" x="-35" y="-4"/>
<use href="#s" x="-39" y="25"/><use href="#s" x="-29" y="23"/><use href="#s" x="-35" y="35"/><use href="#s" x="-25" y="33"/><use href="#s" x="-38" y="44"/><use href="#s" x="-28" y="46"/><use href="#s" x="-5" y="45"/><use href="#s" x="1" y="53"/></g>
<g class="rg dr" style="--r:50">
<use href="#s" style="--a:270"/><use href="#s" style="--a:300"/><use href="#s" style="--a:315"/><use href="#s" style="--a:330"/><use href="#s" style="--a:345"/><use href="#s" style="--a:0"/><use href="#s" style="--a:15"/><use href="#s" style="--a:30"/><use href="#s" style="--a:45"/><use href="#s" style="--a:60"/><use href="#s" style="--a:75"/>
</g>
<g class="rg dr" style="--r:41">
<use href="#s" style="--a:260"/><use href="#s" style="--a:270"/><use href="#s" style="--a:280"/><use href="#s" style="--a:290"/><use href="#s" style="--a:300"/><use href="#s" style="--a:310"/><use href="#s" style="--a:320"/><use href="#s" style="--a:330"/><use href="#s" style="--a:340"/><use href="#s" style="--a:350"/><use href="#s" style="--a:0"/><use href="#s" style="--a:10"/><use href="#s" style="--a:20"/><use href="#s" style="--a:30"/><use href="#s" style="--a:40"/><use href="#s" style="--a:50"/><use href="#s" style="--a:60"/><use href="#s" style="--a:70"/><use href="#s" style="--a:80"/><use href="#s" style="--a:90"/><use href="#s" style="--a:100"/><use href="#s" style="--a:110"/>
<use href="#s" style="--a:160;--r:35"/><use href="#s" style="--a:170;--r:35"/><use href="#s" style="--a:180;--r:35"/><use href="#s" style="--a:190;--r:35"/><use href="#s" style="--a:200;--r:35"/>
</g>
<use href="#s" class="dr"/>
</g>
<g id="hub-black">
<g class="pu"><use href="#s" x="36" y="268"/><use href="#s" x="46" y="265"/><use href="#s" x="56" y="268"/><use href="#s" x="65" y="271"/><use href="#s" x="33" y="278"/><use href="#s" x="43" y="277"/><use href="#s" x="53" y="279"/><use href="#s" x="63" y="281"/><use href="#s" x="38" y="288"/><use href="#s" x="48" y="287"/><use href="#s" x="58" y="289"/><use href="#s" x="68" y="292"/><use href="#s" x="41" y="298"/><use href="#s" x="51" y="297"/><use href="#s" x="61" y="299"/><use href="#s" x="70" y="302"/><use href="#s" x="48" y="306"/><use href="#s" x="58" y="307"/></g>
<g class="pk"><use href="#s" x="78" y="408"/><use href="#s" x="88" y="405"/><use href="#s" x="98" y="408"/><use href="#s" x="72" y="418"/><use href="#s" x="82" y="417"/><use href="#s" x="92" y="418"/><use href="#s" x="102" y="420"/><use href="#s" x="112" y="422"/><use href="#s" x="75" y="428"/><use href="#s" x="85" y="428"/><use href="#s" x="95" y="430"/><use href="#s" x="105" y="431"/><use href="#s" x="115" y="433"/><use href="#s" x="124" y="435"/><use href="#s" x="80" y="438"/><use href="#s" x="90" y="440"/><use href="#s" x="100" y="441"/><use href="#s" x="110" y="443"/><use href="#s" x="120" y="445"/><use href="#s" x="129" y="444"/><use href="#s" x="88" y="448"/><use href="#s" x="98" y="450"/><use href="#s" x="108" y="450"/><use href="#s" x="118" y="452"/></g>
<g class="bk">
<use href="#s" x="80" y="272"/><use href="#s" x="86" y="280"/><use href="#s" x="91" y="266"/><use href="#s" x="99" y="263"/><use href="#s" x="107" y="260"/><use href="#s" x="115" y="258"/><use href="#s" x="123" y="257"/><use href="#s" x="130" y="254"/><use href="#s" x="138" y="252"/><use href="#s" x="146" y="250"/><use href="#s" x="153" y="247"/><use href="#s" x="160" y="245"/><use href="#s" x="166" y="250"/><use href="#s" x="158" y="256"/><use href="#s" x="170" y="257"/><use href="#s" x="176" y="262"/><use href="#s" x="186" y="266"/><use href="#s" x="193" y="281"/><use href="#s" x="118" y="265"/><use href="#s" x="128" y="263"/><use href="#s" x="140" y="260"/><use href="#s" x="150" y="258"/>
<use href="#s" x="13" y="317"/><use href="#s" x="19" y="325"/>
<use href="#s" x="55" y="338"/><use href="#s" x="63" y="342"/><use href="#s" x="56" y="348"/><use href="#s" x="61" y="356"/><use href="#s" x="58" y="364"/><use href="#s" x="64" y="370"/><use href="#s" x="67" y="378"/><use href="#s" x="62" y="384"/><use href="#s" x="71" y="386"/><use href="#s" x="73" y="393"/><use href="#s" x="79" y="397"/><use href="#s" x="67" y="396"/>
<use href="#s" x="133" y="418"/><use href="#s" x="141" y="416"/><use href="#s" x="149" y="418"/><use href="#s" x="157" y="416"/><use href="#s" x="163" y="421"/><use href="#s" x="143" y="427"/><use href="#s" x="151" y="426"/><use href="#s" x="137" y="424"/>
<use href="#s" x="137" y="340"/>
</g>
<g class="pu"><use href="#s" x="93" y="270"/><use href="#s" x="107" y="253"/><use href="#s" x="110" y="263"/><use href="#s" x="183" y="273"/><use href="#s" x="192" y="271"/></g>
</g>
<g id="hub"><use href="#s" class="pu" x="583" y="468"/></g>
</g>
</svg>
